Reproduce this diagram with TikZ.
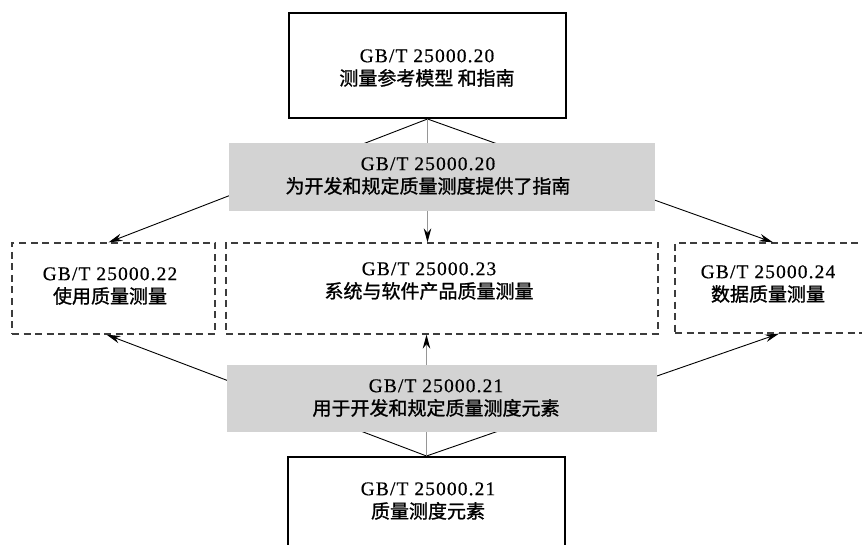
\documentclass[tikz,border=0pt]{standalone}
\usepackage{fontspec}
\setmainfont{Liberation Serif}
\newfontfamily\cjk[FakeBold=1.2]{Noto Sans CJK SC}
\newfontfamily\lat[LetterSpace=6,Scale=1.02,FakeBold=0.6]{Liberation Serif}
\usetikzlibrary{arrows.meta,calc}
\definecolor{bandgray}{RGB}{211,211,211}
\definecolor{linegray}{RGB}{150,150,150}
\definecolor{dashcol}{RGB}{60,60,60}
\begin{document}
\begin{tikzpicture}[x=1pt,y=-1pt,
  lbl/.style={align=center, inner sep=0pt, font=\fontsize{19}{23}\selectfont},
  solidbox/.style={draw=black, line width=2pt, inner sep=0pt},
  dashbox/.style={draw=dashcol, line width=1.3pt, dash pattern=on 7pt off 4.5pt, inner sep=0pt},
  band/.style={fill=bandgray, inner sep=0pt},
  arr/.style={-{Stealth[length=14pt,width=7.5pt,black]}, line width=0.9pt},
  garr/.style={arr, draw=linegray}]
\useasboundingbox (0,0) rectangle (862,545);
\clip (0,0) rectangle (862,545);
% boxes
\node[solidbox, minimum width=277pt, minimum height=105pt] (top) at (427.5,65.5) {};
\node[solidbox, minimum width=277pt, minimum height=160pt] (bot) at (426.5,537) {};
\node[dashbox, minimum width=203pt, minimum height=91pt] (lbox) at (113.5,288.5) {};
\node[dashbox, minimum width=432pt, minimum height=91pt] (cbox) at (442,288.5) {};
\node[dashbox, minimum width=196pt, minimum height=90pt] (rbox) at (773,288) {};
% connectors
\draw[arr] (top.south) -- ([xshift=-5pt]lbox.north);
\draw[arr] (top.south) -- (rbox.north);
\draw[garr] (top.south) -- (top.south |- cbox.north);
\draw[arr] (bot.north) -- ([xshift=-7pt]lbox.south);
\draw[arr] (bot.north) -- ([xshift=6pt]rbox.south);
\draw[garr] (bot.north) -- (bot.north |- cbox.south);
% bands
\node[band, minimum width=426pt, minimum height=68pt] (g1) at (442,177) {};
\node[band, minimum width=430pt, minimum height=67pt] (g2) at (442,398.5) {};
% texts
\node[lbl] (t1) at (427,68) {{\lat GB/T 25000.20}\\{\cjk 测量参考模型 和指南}};
\node[lbl] (tg1) at (428,176) {{\lat GB/T 25000.20}\\{\cjk 为开发和规定质量测度提供了指南}};
\node[lbl] (tl) at (110,286) {{\lat GB/T 25000.22}\\{\cjk 使用质量测量}};
\node[lbl] (tc) at (429,281) {{\lat GB/T 25000.23}\\{\cjk 系统与软件产品质量测量}};
\node[lbl] (tr) at (768,284) {{\lat GB/T 25000.24}\\{\cjk 数据质量测量}};
\node[lbl] (tg2) at (436,398) {{\lat GB/T 25000.21}\\{\cjk 用于开发和规定质量测度元素}};
\node[lbl] (tb) at (428,501) {{\lat GB/T 25000.21}\\{\cjk 质量测度元素}};
\end{tikzpicture}
\end{document}
